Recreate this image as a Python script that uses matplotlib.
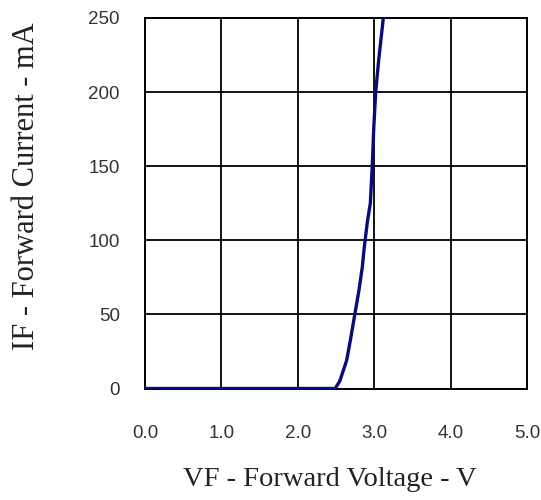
import matplotlib.pyplot as plt

# Forward voltage (V) vs forward current (mA)
vf = [0.0, 2.49, 2.55, 2.64, 2.69, 2.75, 2.80, 2.845, 2.87, 2.91, 2.95, 2.975, 2.995, 3.02, 3.06, 3.12]
i_f = [0, 0, 5, 19, 33, 51, 66, 82, 95, 112, 125, 150, 176, 200, 222, 250]

x_ticks = [0, 1, 2, 3, 4, 5]
x_ticklabels = ["0.0", "1.0", "2.0", "3.0", "4.0", "5.0"]
y_ticks = [0, 50, 100, 150, 200, 250]

fig = plt.figure(figsize=(5.41, 5.0), dpi=100)
ax = fig.add_axes([0.268, 0.223, 0.706, 0.741])

ax.plot(vf, i_f, color="#0a0a78", lw=2.4, solid_capstyle="butt", zorder=3)

ax.set_xlim(0, 5)
ax.set_ylim(0, 250)
ax.set_xticks(x_ticks)
ax.set_xticklabels(x_ticklabels)
ax.set_yticks(y_ticks)
ax.grid(True, color="black", lw=1.3)
for s in ax.spines.values():
    s.set_color("black")
    s.set_linewidth(1.4)

ax.tick_params(length=0, labelsize=13.5, labelcolor="#333333")
ax.tick_params(axis="x", pad=26)
ax.tick_params(axis="y", pad=18)
for lab in ax.get_xticklabels() + ax.get_yticklabels():
    lab.set_family("Liberation Sans")

serif = "Liberation Serif"
ax.set_ylabel("IF - Forward Current - mA", family=serif, fontsize=22, color="#222222")
ax.set_xlabel("VF - Forward Voltage - V", family=serif, fontsize=20.5, color="#222222")
ax.yaxis.set_label_coords(-0.272, 0.545)
ax.xaxis.set_label_coords(0.484, -0.213)

fig.savefig("out.png", dpi=100)
